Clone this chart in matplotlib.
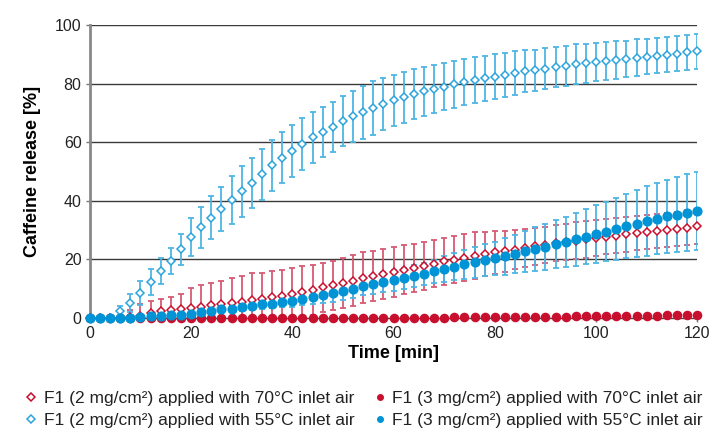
import matplotlib.pyplot as plt
from matplotlib.lines import Line2D

time_min = list(range(0, 121, 2))

# F1 (2 mg/cm2), 70 C inlet air
f1_2mg_70 = [0, 0, 0, 0, 0.3, 0.8, 1.7, 2.3, 2.6, 3.1, 3.4, 3.9, 4.3, 4.6, 5.0, 5.6,
             6.2, 6.5, 7.1, 7.5, 8.1, 8.9, 9.6, 10.4, 11.1, 11.9, 12.7, 13.8, 14.4, 15.1,
             15.7, 16.5, 17.2, 17.8, 18.5, 19.3, 19.9, 20.6, 21.3, 21.8, 22.4, 22.8, 23.3,
             23.9, 24.4, 24.9, 25.5, 25.9, 26.4, 26.8, 27.3, 27.7, 28.1, 28.5, 29.0, 29.3,
             29.7, 30.0, 30.3, 30.8, 31.3]
f1_2mg_70_sd = [0, 0, 0, 0.5, 2.5, 4.0, 4.2, 4.2, 4.5, 5.1, 6.7, 7.3, 7.7, 8.0, 8.5, 8.7,
                9.0, 8.9, 9.1, 9.0, 8.8, 8.7, 8.6, 8.4, 8.3, 8.6, 8.7, 8.6, 8.5, 8.5, 8.4,
                8.3, 8.2, 8.2, 8.1, 8.1, 8.0, 8.0, 8.0, 7.6, 7.3, 7.0, 6.7, 6.4, 6.2, 6.2,
                6.2, 6.2, 6.2, 6.2, 6.2, 6.0, 6.0, 6.0, 5.9, 5.9, 5.9, 5.9, 5.9, 5.9, 5.9]

# F1 (2 mg/cm2), 55 C inlet air
f1_2mg_55 = [0, 0, 0, 2.5, 5.1, 8.5, 12.3, 16.1, 19.5, 23.4, 27.6, 30.9, 34.2, 37.2, 40.3,
             43.2, 46.0, 49.1, 52.2, 54.7, 57.0, 59.4, 61.7, 63.5, 65.3, 67.2, 68.8, 70.2,
             71.6, 73.0, 74.4, 75.3, 76.4, 77.4, 78.2, 79.0, 79.8, 80.6, 81.3, 81.8, 82.4,
             83.1, 83.6, 84.2, 84.5, 85.1, 85.6, 86.0, 86.6, 87.0, 87.4, 87.7, 88.1, 88.4,
             88.9, 89.2, 89.5, 89.9, 90.2, 90.7, 91.1]
f1_2mg_55_sd = [0, 0, 0, 1.7, 3.2, 4.0, 4.4, 4.4, 4.4, 5.3, 6.6, 7.1, 7.4, 7.4, 8.2, 8.6,
                8.6, 8.7, 8.7, 8.7, 8.8, 8.8, 8.7, 8.6, 8.6, 8.6, 8.8, 9.0, 9.2, 9.0, 8.7,
                8.6, 8.5, 8.4, 8.2, 8.1, 8.0, 7.9, 7.8, 7.7, 7.7, 7.5, 7.4, 7.2, 7.1, 7.0,
                6.9, 6.8, 6.8, 6.7, 6.6, 6.5, 6.4, 6.3, 6.2, 6.0, 6.0, 6.0, 6.0, 6.0, 6.0]

# F1 (3 mg/cm2), 70 C inlet air
f1_3mg_70 = [0] * 26 + [0.1] * 10 + [0.2] * 7 + [0.3] * 5 + [0.5] * 3 + [0.6] * 3 \
            + [0.8] * 3 + [1.0, 1.0, 1.1, 1.1]
f1_3mg_70_sd = [0] * 30 + [0.2] * 31

# F1 (3 mg/cm2), 55 C inlet air
f1_3mg_55 = [0, 0, 0, 0, 0, 0.3, 0.6, 0.7, 0.9, 1.1, 1.5, 1.9, 2.4, 2.9, 3.2, 3.7, 4.0,
             4.6, 4.9, 5.4, 5.9, 6.5, 7.3, 7.8, 8.4, 9.1, 9.9, 10.9, 11.5, 12.2, 12.8,
             13.6, 14.3, 15.1, 15.9, 16.7, 17.5, 18.3, 19.0, 19.7, 20.3, 21.0, 21.8, 22.7,
             23.6, 24.3, 25.1, 26.0, 26.9, 27.7, 28.6, 29.5, 30.5, 31.3, 32.2, 33.1, 33.9,
             34.7, 35.3, 36.0, 36.6]
f1_3mg_55_sd = [0, 0, 0, 0, 0, 0.3, 0.4, 0.5, 0.6, 0.7, 0.8, 0.9, 1.0, 1.1, 1.2, 1.3, 1.4,
                1.5, 1.6, 1.8, 2.0, 2.2, 2.4, 2.6, 2.8, 3.0, 3.1, 3.2, 3.3, 3.4, 3.5, 3.6,
                3.7, 3.8, 4.0, 4.3, 4.6, 4.9, 5.2, 5.5, 5.8, 6.2, 6.6, 7.0, 7.4, 7.8, 8.2,
                8.6, 9.0, 9.4, 9.8, 10.2, 10.6, 11.0, 11.4, 11.8, 12.2, 12.5, 12.8, 13.0, 13.3]

labels = [
    "F1 (2 mg/cm²) applied with 70°C inlet air",
    "F1 (2 mg/cm²) applied with 55°C inlet air",
    "F1 (3 mg/cm²) applied with 70°C inlet air",
    "F1 (3 mg/cm²) applied with 55°C inlet air",
]

RED = "#c8102e"
RED_ERR = "#d65a72"
BLUE = "#0093d5"
BLUE_D = "#2ba4dc"
BLUE_ERR = "#4db5e4"

plt.rcParams["font.family"] = ["Liberation Sans", "DejaVu Sans"]

fig = plt.figure(figsize=(7.13, 4.32), dpi=100)
ax = fig.add_axes([0.126, 0.264, 0.852, 0.678])

series = [
    (f1_2mg_70, f1_2mg_70_sd, "D", "white", RED, RED_ERR, 4.5),
    (f1_2mg_55, f1_2mg_55_sd, "D", "white", BLUE_D, BLUE_ERR, 4.5),
    (f1_3mg_70, f1_3mg_70_sd, "o", RED, RED, RED_ERR, 5.8),
    (f1_3mg_55, f1_3mg_55_sd, "o", BLUE, BLUE, BLUE_ERR, 6.2),
]

for i, (y, sd, mk, fc, ec, errc, ms) in enumerate(series):
    ax.errorbar(time_min, y, yerr=sd, fmt="none", ecolor=errc, elinewidth=1.3,
                capsize=2.2, capthick=1.3, zorder=2 + i)
    ax.plot(time_min, y, linestyle="none", marker=mk, markersize=ms,
            markerfacecolor=fc, markeredgecolor=ec, markeredgewidth=1.1,
            zorder=6 + i, clip_on=False)

ax.set_xlim(0, 120)
ax.set_ylim(0, 100)
ax.set_xticks(range(0, 121, 20))
ax.set_yticks(range(0, 101, 20))
ax.tick_params(axis="both", labelsize=11.5, length=3, width=1, color="#777777",
               labelcolor="#222222", pad=3)

for yv in range(20, 101, 20):
    ax.axhline(yv, color="#3a3a3a", linewidth=1, zorder=1)

for side in ["top", "right"]:
    ax.spines[side].set_visible(False)
ax.spines["left"].set_color("#888888")
ax.spines["left"].set_linewidth(2)
ax.spines["bottom"].set_color("#444444")
ax.spines["bottom"].set_linewidth(1)

ax.set_xlabel("Time [min]", fontsize=13, fontweight="bold", labelpad=3)
ax.set_ylabel("Caffeine release [%]", fontsize=13, fontweight="bold", labelpad=10)

handles = [
    Line2D([], [], linestyle="none", marker="D", markersize=4, markerfacecolor="white",
           markeredgecolor=RED, markeredgewidth=1.1),
    Line2D([], [], linestyle="none", marker="D", markersize=4, markerfacecolor="white",
           markeredgecolor=BLUE_D, markeredgewidth=1.1),
    Line2D([], [], linestyle="none", marker="o", markersize=4, color=RED),
    Line2D([], [], linestyle="none", marker="o", markersize=4, color=BLUE),
]
fig.legend(handles, labels, loc="lower left", bbox_to_anchor=(0.021, -0.014), ncol=2,
           frameon=False, handlelength=0.7, handletextpad=0.35, columnspacing=1.15,
           labelspacing=0.38, fontsize=12.5, labelcolor="#222222", borderaxespad=0.2)

fig.savefig("out.png", dpi=100)
